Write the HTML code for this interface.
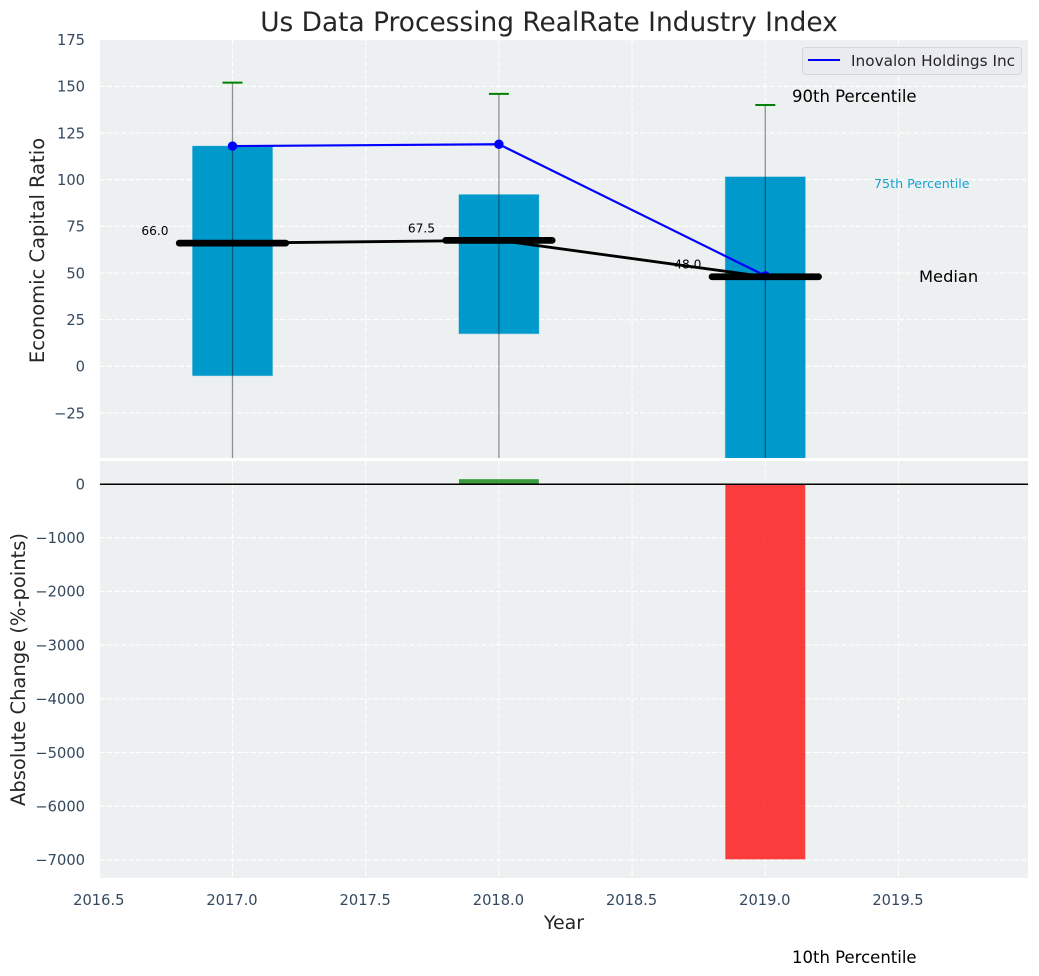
<!DOCTYPE html>
<html lang="en">
<head>
<meta charset="utf-8">
<title>Us Data Processing RealRate Industry Index</title>
<style>
html,body{margin:0;padding:0;background:#fff;width:1039px;height:976px;overflow:hidden}
svg{display:block;font-family:"DejaVu Sans","Liberation Sans",sans-serif}
</style>
</head>
<body>
<svg id="chart" width="1039" height="976" viewBox="0 0 1039 976" xmlns="http://www.w3.org/2000/svg">
  <defs>
    <clipPath id="clip-top"><rect x="100" y="40" width="928" height="418"/></clipPath>
    <clipPath id="clip-bottom"><rect x="100" y="461" width="928" height="417"/></clipPath>
  </defs>
  <rect x="0" y="0" width="1039" height="976" fill="#ffffff"/>
  <rect x="100" y="40" width="928" height="418" fill="#ecf0f1"/>
  <rect x="100" y="461" width="928" height="417" fill="#ecf0f1"/>
  <g id="grid-top" clip-path="url(#clip-top)"></g>
  <g id="grid-bottom" clip-path="url(#clip-bottom)"></g>
  <g id="marks-top" clip-path="url(#clip-top)"></g>
  <g id="marks-bottom" clip-path="url(#clip-bottom)"></g>
  <g id="ticks"></g>
  <g id="median-labels"></g>

  <text x="549" y="31" text-anchor="middle" font-size="26.4" fill="#262626">Us Data Processing RealRate Industry Index</text>
  <text x="564" y="929" text-anchor="middle" font-size="19" fill="#262626">Year</text>
  <text transform="translate(44 250.5) rotate(-90)" text-anchor="middle" font-size="19.5" fill="#262626">Economic Capital Ratio</text>
  <text transform="translate(25 669.5) rotate(-90)" text-anchor="middle" font-size="19.5" fill="#262626">Absolute Change (%-points)</text>

  <text x="792" y="102" font-size="16.5" fill="#000000">90th Percentile</text>
  <text x="874" y="188" font-size="12.66" fill="#0099cc" fill-opacity="0.9">75th Percentile</text>
  <text x="919" y="282" font-size="16.3" fill="#000000">Median</text>
  <text x="792" y="963" font-size="16.5" fill="#000000">10th Percentile</text>

  <g>
    <rect x="802.5" y="47.5" width="219" height="27" rx="3" ry="3" fill="#e9ebf1" stroke="#d4d6da" stroke-width="1"/>
    <line x1="808" y1="60" x2="840" y2="60" stroke="#0000ff" stroke-width="2"/>
    <text x="851" y="66" font-size="15.3" fill="#262626">Inovalon Holdings Inc</text>
  </g>
</svg>
<script>
var years = [2017, 2018, 2019];
var percentile90 = [152, 146, 140];
var percentile75 = [118, 92, 101.5];
var percentile25 = [-5, 17.5, -70];
var percentile10 = [-70, -60, -320];
var medians = [66, 67.5, 48];
var companyValues = [118, 119, 48.5];
var absoluteChanges = [null, 90, -6990];
var xTickLabels = ["2016.5", "2017.0", "2017.5", "2018.0", "2018.5", "2019.0", "2019.5"];
var topTickLabels = [175, 150, 125, 100, 75, 50, 25, 0, -25];
var bottomTickLabels = [0, -1000, -2000, -3000, -4000, -5000, -6000, -7000];

var SVG_NS = 'http://www.w3.org/2000/svg';
function xScale(v) { return 232.5 + (v - 2017) * 266.4; }
function yTop(v) { return 366.3 - v * 1.866; }
function yBottom(v) { return 484 - v * 0.0537; }

function make(parent, tag, name, props, text) {
  var el = document.createElementNS(SVG_NS, tag);
  
  
  for (var k in props) { el.setAttribute(k, props[k]); }
  if (text !== undefined) { el.textContent = text; }
  parent.appendChild(el);
  return el;
}
function fmt(v) { return String(v).replace('-', '\u2212'); }

var gridTop = document.getElementById('grid-top');
var gridBottom = document.getElementById('grid-bottom');
var marksTop = document.getElementById('marks-top');
var marksBottom = document.getElementById('marks-bottom');
var ticks = document.getElementById('ticks');
var medianLabels = document.getElementById('median-labels');
var gridStyle = { stroke: '#ffffff', 'stroke-width': 1.1, 'stroke-dasharray': '5 2.2' };

function gridProps(x1, y1, x2, y2) {
  return { x1: x1, y1: y1, x2: x2, y2: y2, stroke: gridStyle.stroke, 'stroke-width': gridStyle['stroke-width'], 'stroke-dasharray': gridStyle['stroke-dasharray'] };
}

xTickLabels.forEach(function (label) {
  var v = parseFloat(label);
  var px = xScale(v);
  make(gridTop, 'line', 'vertical-gridline-top-' + label, gridProps(px, 40, px, 458));
  make(gridBottom, 'line', 'vertical-gridline-bottom-' + label, gridProps(px, 461, px, 878));
  make(ticks, 'text', 'x-tick-' + label, { x: px - 0.5, y: 905, 'text-anchor': 'middle', 'font-size': 14.67, fill: '#34495e' }, label);
});
topTickLabels.forEach(function (v) {
  var py = yTop(v);
  make(gridTop, 'line', 'horizontal-gridline-top-' + v, gridProps(100, py, 1028, py));
  make(ticks, 'text', 'top-y-tick-' + v, { x: 85, y: py + 5.3, 'text-anchor': 'end', 'font-size': 14.67, fill: '#34495e' }, fmt(v));
});
bottomTickLabels.forEach(function (v) {
  var py = yBottom(v);
  make(gridBottom, 'line', 'horizontal-gridline-bottom-' + v, gridProps(100, py, 1028, py));
  make(ticks, 'text', 'bottom-y-tick-' + v, { x: 85, y: py + 5.3, 'text-anchor': 'end', 'font-size': 14.67, fill: '#34495e' }, fmt(v));
});

var BAR_WIDTH = 0.3;
var CAP_HALF = 0.0375;
var MEDIAN_HALF = 0.2;

years.forEach(function (yr, i) {
  var left = xScale(yr - BAR_WIDTH / 2);
  var right = xScale(yr + BAR_WIDTH / 2);
  var hiY = yTop(percentile75[i]);
  var loY = yTop(percentile25[i]);
  make(marksTop, 'rect', 'percentile-box-' + yr, { x: left, y: hiY, width: right - left, height: loY - hiY, fill: '#0099cc', stroke: '#0099cc', 'stroke-opacity': 0.35, 'stroke-width': 1 });
});
years.forEach(function (yr, i) {
  var cx = xScale(yr);
  make(marksTop, 'line', 'whisker-' + yr, { x1: cx, y1: yTop(percentile90[i]), x2: cx, y2: yTop(percentile10[i]), stroke: '#000000', 'stroke-opacity': 0.42, 'stroke-width': 1.3 });
  make(marksTop, 'line', 'upper-cap-' + yr, { x1: xScale(yr - CAP_HALF), y1: yTop(percentile90[i]), x2: xScale(yr + CAP_HALF), y2: yTop(percentile90[i]), stroke: '#008000', 'stroke-width': 2 });
  make(marksTop, 'line', 'lower-cap-' + yr, { x1: xScale(yr - CAP_HALF), y1: yTop(percentile10[i]), x2: xScale(yr + CAP_HALF), y2: yTop(percentile10[i]), stroke: '#008000', 'stroke-width': 2 });
});

var companyPoints = years.map(function (yr, i) { return xScale(yr) + ',' + yTop(companyValues[i]); }).join(' ');
make(marksTop, 'polyline', 'inovalon-line', { points: companyPoints, fill: 'none', stroke: '#0000ff', 'stroke-width': 2.2 });
years.forEach(function (yr, i) {
  make(marksTop, 'circle', 'inovalon-point-' + yr, { cx: xScale(yr), cy: yTop(companyValues[i]), r: 4.7, fill: '#0000ff' });
});

years.forEach(function (yr, i) {
  make(medianLabels, 'text', 'median-label-' + yr, { x: xScale(yr) - 77.5, y: yTop(medians[i]) - 8, 'text-anchor': 'middle', 'font-size': 12.2, fill: '#000000' }, medians[i].toFixed(1));
});
var medianPoints = years.map(function (yr, i) { return xScale(yr) + ',' + yTop(medians[i]); }).join(' ');
make(marksTop, 'polyline', 'median-trend-line', { points: medianPoints, fill: 'none', stroke: '#000000', 'stroke-width': 2.8 });
years.forEach(function (yr, i) {
  make(marksTop, 'line', 'median-bar-' + yr, { x1: xScale(yr - MEDIAN_HALF), y1: yTop(medians[i]), x2: xScale(yr + MEDIAN_HALF), y2: yTop(medians[i]), stroke: '#000000', 'stroke-width': 6.7, 'stroke-linecap': 'round' });
});

years.forEach(function (yr, i) {
  var v = absoluteChanges[i];
  if (v === null) { return; }
  var left = xScale(yr - BAR_WIDTH / 2);
  var right = xScale(yr + BAR_WIDTH / 2);
  var a = yBottom(Math.max(v, 0));
  var b = yBottom(Math.min(v, 0));
  make(marksBottom, 'rect', 'change-bar-' + yr, { x: left, y: a, width: right - left, height: b - a, fill: v >= 0 ? '#008000' : '#ff0000', 'fill-opacity': 0.75 });
});
make(marksBottom, 'line', 'zero-line', { x1: 100, y1: yBottom(0) + 0.2, x2: 1028, y2: yBottom(0) + 0.2, stroke: '#000000', 'stroke-width': 1.5 });
</script>
</body>
</html>
